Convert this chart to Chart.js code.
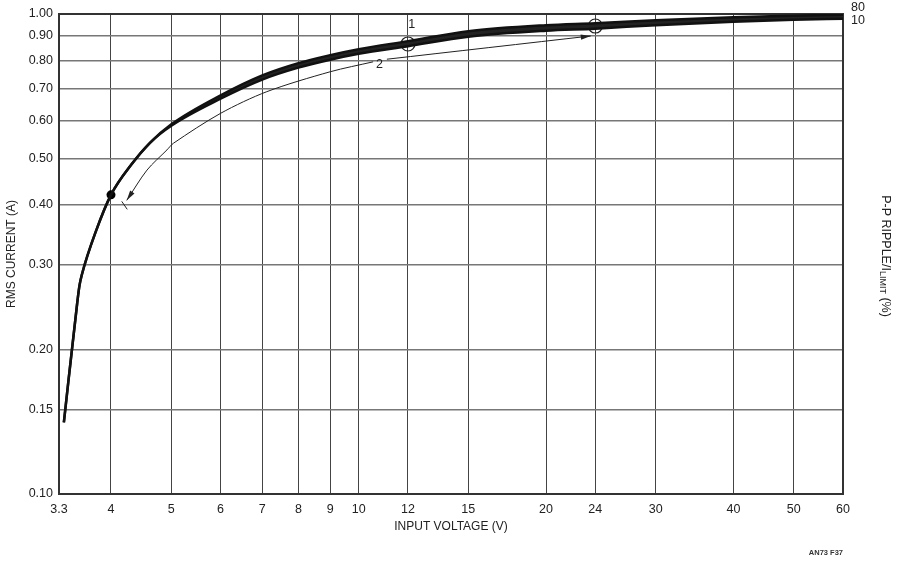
<!DOCTYPE html>
<html>
<head>
<meta charset="utf-8">
<script src="https://cdn.jsdelivr.net/npm/chart.js@4.4.1/dist/chart.umd.min.js"></script>
<style>
  html, body { margin: 0; padding: 0; background: #fff; }
  #wrap { width: 900px; height: 564px; position: relative; }
</style>
</head>
<body>
<div id="wrap"><canvas id="chart"></canvas></div>
<script>
// Axis ticks
const xTicks = [3.3, 4, 5, 6, 7, 8, 9, 10, 12, 15, 20, 24, 30, 40, 50, 60];
const xTickLabels = ["3.3", "4", "5", "6", "7", "8", "9", "10", "12", "15", "20", "24", "30", "40", "50", "60"];
const yTicks = [0.1, 0.15, 0.2, 0.3, 0.4, 0.5, 0.6, 0.7, 0.8, 0.9, 1.0];
const yTickLabels = ["0.10", "0.15", "0.20", "0.30", "0.40", "0.50", "0.60", "0.70", "0.80", "0.90", "1.00"];

// RMS current vs input voltage, for 80% and 10% p-p ripple
const voltage  = [3.36, 3.53, 3.56, 3.59, 3.79, 4, 4.31, 4.62, 5, 6, 7, 8, 9, 10, 12, 15, 20, 24, 30, 40, 50, 60];
const ripple80 = [0.141, 0.250, 0.272, 0.286, 0.355, 0.420, 0.485, 0.539, 0.589, 0.677, 0.745, 0.790, 0.821, 0.845, 0.878, 0.921, 0.948, 0.957, 0.971, 0.985, 0.992, 0.997];
const ripple10 = [0.141, 0.250, 0.272, 0.286, 0.355, 0.420, 0.485, 0.539, 0.585, 0.666, 0.730, 0.773, 0.803, 0.826, 0.857, 0.897, 0.923, 0.932, 0.948, 0.964, 0.973, 0.978];
const rippleLabels = ["80", "10"];

// the thin "2" arrow (gap where the label sits)
const arrowV = [4.24, 4.57, 4.92, 5.04, 6, 7.12, 9, 10.55, 10.8, 11.1, 23.6];
const arrowI = [0.409, 0.473, 0.521, 0.538, 0.621, 0.689, 0.758, 0.795, null, 0.805, 0.900];

// marked points
const dotV = [4];
const dotI = [0.42];
const circleV = [12, 24];
const circleI = [0.866, 0.944];

// callout numbers
const calloutText = ["1", "2"];
const calloutV = [12.17, 10.8];
const calloutI = [0.949, 0.786];

const FONT = "'Liberation Sans', Arial, sans-serif";
Chart.defaults.font.family = FONT;
Chart.defaults.color = "#222";

const toXY = (xs, ys) => xs.map((x, i) => ({ x: x, y: ys[i] }));

const extras = {
  id: "extras",
  beforeDatasetsDraw(chart) {
    const { ctx, chartArea: a } = chart;
    ctx.save();
    ctx.strokeStyle = "#333";
    ctx.lineWidth = 2;
    ctx.strokeRect(a.left, a.top, a.right - a.left, a.bottom - a.top);
    ctx.restore();
  },
  afterDatasetsDraw(chart) {
    const ctx = chart.ctx;
    const pts = chart.getDatasetMeta(2).data;
    ctx.save();
    ctx.fillStyle = "#222";
    ctx.strokeStyle = "#222";
    ctx.lineWidth = 1;
    const head = (tip, from) => {
      const dx = tip.x - from.x, dy = tip.y - from.y;
      const len = Math.hypot(dx, dy);
      const ux = dx / len, uy = dy / len;
      const bx = tip.x - ux * 10, by = tip.y - uy * 10;
      ctx.beginPath();
      ctx.moveTo(tip.x, tip.y);
      ctx.lineTo(bx - uy * 2.6, by + ux * 2.6);
      ctx.lineTo(bx + uy * 2.6, by - ux * 2.6);
      ctx.closePath();
      ctx.fill();
    };
    const n = pts.length;
    head(pts[n - 1], pts[n - 2]);
    head(pts[0], pts[1]);
    // small bar at the left arrow tip
    ctx.beginPath();
    ctx.moveTo(pts[0].x - 5, pts[0].y + 1);
    ctx.lineTo(pts[0].x + 0.5, pts[0].y + 9);
    ctx.stroke();
    ctx.restore();
  },
  afterDraw(chart) {
    const { ctx, chartArea: a, scales } = chart;
    const x = scales.x, y = scales.y;
    ctx.save();
    ctx.fillStyle = "#222";
    ctx.textBaseline = "middle";
    ctx.textAlign = "center";
    ctx.font = "12.5px " + FONT;

    // callouts 1 and 2
    calloutText.forEach((t, i) => {
      ctx.fillText(t, x.getPixelForValue(calloutV[i]), y.getPixelForValue(calloutI[i]));
    });

    // ripple labels at the right end of the band
    ctx.textAlign = "left";
    const last = voltage.length - 1;
    ctx.fillText(rippleLabels[0], a.right + 8, y.getPixelForValue(ripple80[last]) - 7);
    ctx.fillText(rippleLabels[1], a.right + 8, y.getPixelForValue(ripple10[last]) + 2);

    // x title
    ctx.textAlign = "center";
    ctx.font = "12px " + FONT;
    ctx.fillText("INPUT VOLTAGE (V)", (a.left + a.right) / 2, 527);

    // left title
    ctx.save();
    ctx.translate(12, (a.top + a.bottom) / 2);
    ctx.rotate(-Math.PI / 2);
    ctx.fillText("RMS CURRENT (A)", 0, 0);
    ctx.restore();

    // right title with subscript
    ctx.save();
    ctx.translate(885, (a.top + a.bottom) / 2 + 2);
    ctx.rotate(Math.PI / 2);
    const big = "12.5px " + FONT, small = "9px " + FONT;
    const parts = [["P-P RIPPLE/I", big, 0], ["LIMIT", small, 3], [" (%)", big, 0]];
    let total = 0;
    parts.forEach(p => { ctx.font = p[1]; total += ctx.measureText(p[0]).width; });
    let cx = -total / 2;
    ctx.textAlign = "left";
    parts.forEach(p => {
      ctx.font = p[1];
      ctx.fillText(p[0], cx, p[2]);
      cx += ctx.measureText(p[0]).width;
    });
    ctx.restore();

    // figure tag
    ctx.font = "bold 7.5px " + FONT;
    ctx.textAlign = "right";
    ctx.fillStyle = "#333";
    ctx.fillText("AN73 F37", a.right, 553);
    ctx.restore();
  }
};

new Chart(document.getElementById("chart"), {
  type: "line",
  data: {
    datasets: [
      { data: toXY(voltage, ripple80), borderColor: "#111", borderWidth: 2.5, pointRadius: 0, cubicInterpolationMode: "monotone" },
      { data: toXY(voltage, ripple10), borderColor: "#111", borderWidth: 2.5, pointRadius: 0, cubicInterpolationMode: "monotone",
        fill: "-1", backgroundColor: "#222" },
      { data: toXY(arrowV, arrowI), borderColor: "#222", borderWidth: 1, pointRadius: 0, tension: 0.3, spanGaps: false },
      { data: toXY(dotV, dotI), showLine: false, pointRadius: 4.5, pointBackgroundColor: "#000", pointBorderWidth: 0 },
      { data: toXY(circleV, circleI), showLine: false, pointRadius: 7, pointBackgroundColor: "rgba(0,0,0,0)", pointBorderColor: "#222", pointBorderWidth: 1.2 }
    ]
  },
  options: {
    responsive: true,
    maintainAspectRatio: false,
    animation: false,
    layout: { padding: { top: 14, right: 57, left: 0, bottom: 0 } },
    plugins: { legend: { display: false }, tooltip: { enabled: false } },
    scales: {
      x: {
        type: "logarithmic",
        min: 3.3,
        max: 60,
        afterBuildTicks: s => { s.ticks = xTicks.map(v => ({ value: v })); },
        afterFit: s => { s.height = 70; },
        border: { display: false },
        grid: { color: "#444", lineWidth: 1, drawTicks: false },
        ticks: {
          autoSkip: false, maxRotation: 0, padding: 8,
          font: { size: 12.5 }, color: "#222",
          callback: (v, i) => xTickLabels[i]
        }
      },
      y: {
        type: "logarithmic",
        min: 0.1,
        max: 1.0,
        afterBuildTicks: s => { s.ticks = yTicks.map(v => ({ value: v })); },
        afterFit: s => { s.width = 59; },
        border: { display: false },
        grid: { color: "#777", lineWidth: 1.5, drawTicks: false },
        ticks: {
          autoSkip: false, padding: 6,
          font: { size: 12.5 }, color: "#222",
          callback: (v, i) => yTickLabels[i]
        }
      }
    }
  },
  plugins: [extras]
});
</script>
</body>
</html>
